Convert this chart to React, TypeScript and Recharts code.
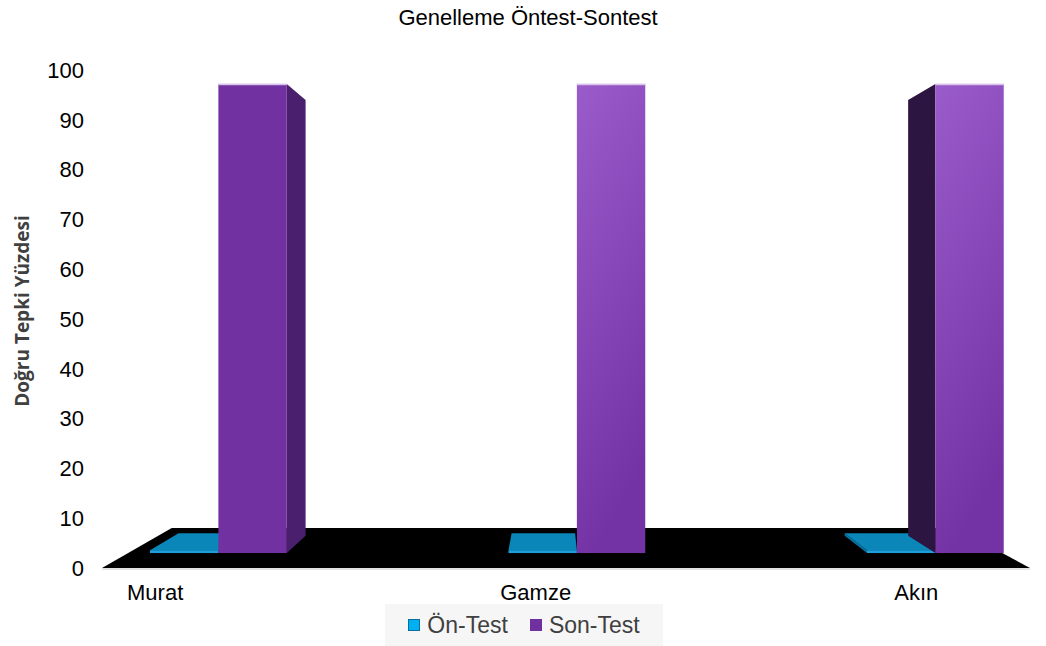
import React from 'react';
import { BarChart, Bar, XAxis, YAxis, ReferenceArea } from 'recharts';

const students = ['Murat', 'Gamze', 'Akın'];
const onTest = [0, 0, 0];
const sonTest = [100, 100, 100];
const yTicks = [0, 10, 20, 30, 40, 50, 60, 70, 80, 90, 100];

const data = students.map((name, i) => ({ name, onTest: onTest[i], sonTest: sonTest[i] }));

// fake 3D: a vanishing point, the bar plane sits a bit behind the front edge of the floor
const VX = 552;
const VY = 310;
const BAR_PLANE = 0.942;
const X_SCALE = 1.1589;
const X_SHIFT = -79.45;
const DEPTH = 0.929;
const FLOOR_DEPTH = 0.845;
const BAR_SIZE = 59;

const projX = (x: number) => X_SHIFT + X_SCALE * x;
const projY = (y: number) => VY + (y - VY) * BAR_PLANE;
const toBack = (x: number, y: number, k: number) => [VX + (x - VX) * k, VY + (y - VY) * k];

const sonFront = ['#7131a0', 'url(#sonLit)', 'url(#sonLit)'];
const sonSide = ['#4a206e', '#3b1a5a', '#2d1542'];

function makeBox(front: (i: number) => string, side: (i: number) => string, top: string, edge?: string) {
  return (props: any) => {
    const { x, y, width, height, index } = props;
    const L = projX(x);
    const R = projX(x + width);
    const T = projY(y);
    const B = projY(y + height);
    const [L2, T2] = toBack(L, T, DEPTH);
    const [R2, B2] = toBack(R, B, DEPTH);
    const pts = (a: number[][]) => a.map((p) => p.join(',')).join(' ');
    return (
      <g>
        {L2 < L - 2 && (
          <polygon points={pts([[L, T], [L2, T2], [L2, B2], [L, B]])} fill={side(index)} />
        )}
        {R2 > R + 2 && (
          <polygon points={pts([[R, T], [R2, T2], [R2, B2], [R, B]])} fill={side(index)} />
        )}
        {T2 < T && (
          <polygon points={pts([[L, T], [R, T], [R2, T2], [L2, T2]])} fill={top} />
        )}
        <rect x={L} y={T} width={R - L} height={Math.max(B - T, 0)} fill={front(index)} />
        {edge && <line x1={L} y1={T + 0.5} x2={R} y2={T + 0.5} stroke={edge} strokeWidth={1.5} />}
      </g>
    );
  };
}

const OnBox = makeBox(() => '#1c9fdc', () => '#08709e', '#0a86b8');
const SonBox = makeBox((i) => sonFront[i], (i) => sonSide[i], '#8a4cc0', '#d9c3ea');

const Floor = (props: any) => {
  const { x, y, width, height } = props;
  const yb = y + height;
  const [L2, T2] = toBack(x, yb, FLOOR_DEPTH);
  const [R2] = toBack(x + width, yb, FLOOR_DEPTH);
  return (
    <g>
      <polygon points={`${x},${yb} ${x + width},${yb} ${R2},${T2} ${L2},${T2}`} fill="#000" />
      <line x1={x} y1={yb + 1} x2={x + width} y2={yb + 1} stroke="#d9d9d9" strokeWidth={1.5} />
    </g>
  );
};

const XTick = (props: any) => {
  const { x, y, payload } = props;
  const cx = VX + (projX(x - BAR_SIZE / 2) - VX) / BAR_PLANE - 6;
  return (
    <text x={cx} y={y + 32} textAnchor="middle" fontSize={22} fill="#000" fontFamily="'Liberation Sans', Arial, sans-serif">
      {payload.value}
    </text>
  );
};

const YLabel = () => (
  <text
    x={29}
    y={311}
    transform="rotate(-90, 29, 311)"
    textAnchor="middle"
    fontSize={19}
    fontWeight={700}
    fill="#404040"
    fontFamily="'Open Sans', sans-serif"
  >
    Doğru Tepki Yüzdesi
  </text>
);

export default function App() {
  return (
    <div
      style={{
        position: 'absolute',
        left: 0,
        top: 0,
        width: 1046,
        height: 646,
        background: '#fff',
        fontFamily: "'Liberation Sans', Arial, sans-serif",
      }}
    >
      <div style={{ position: 'absolute', top: 5, left: 0, width: 1056, textAlign: 'center', fontSize: 22, color: '#000' }}>
        Genelleme Öntest-Sontest
      </div>
      <BarChart width={1046} height={646} data={data} margin={{ top: 70, right: 16, bottom: 0, left: 0 }} barGap={0}>
        <defs>
          <linearGradient id="sonLit" x1="0" y1="0" x2="0.25" y2="1">
            <stop offset="0%" stopColor="#9a5bcb" />
            <stop offset="100%" stopColor="#7433a4" />
          </linearGradient>
        </defs>
        <ReferenceArea y1={0} y2={1} shape={Floor} zIndex={-1} />
        <XAxis dataKey="name" height={78} axisLine={false} tickLine={false} tickSize={0} tickMargin={0} tick={<XTick />} />
        <YAxis
          width={102}
          domain={[0, 100]}
          ticks={yTicks}
          axisLine={false}
          tickLine={false}
          tickSize={0}
          tickMargin={18}
          tick={{ fontSize: 22, fill: '#000', fontFamily: "'Liberation Sans', Arial, sans-serif" }}
          label={<YLabel />}
        />
        <Bar dataKey="onTest" name="Ön-Test" barSize={BAR_SIZE} minPointSize={3} shape={OnBox} isAnimationActive={false} />
        <Bar dataKey="sonTest" name="Son-Test" barSize={BAR_SIZE} shape={SonBox} isAnimationActive={false} />
      </BarChart>
      <div
        style={{
          position: 'absolute',
          left: 385,
          top: 604,
          width: 278,
          height: 42,
          background: '#f6f6f6',
          display: 'flex',
          alignItems: 'center',
          justifyContent: 'center',
          gap: 22,
          fontSize: 23,
          color: '#404040',
        }}
      >
        <span style={{ display: 'flex', alignItems: 'center', gap: 7 }}>
          <span style={{ width: 10, height: 10, background: '#00b0f0', border: '1px solid #0a6fa0' }} />
          Ön-Test
        </span>
        <span style={{ display: 'flex', alignItems: 'center', gap: 7 }}>
          <span style={{ width: 12, height: 12, background: '#7030a0' }} />
          Son-Test
        </span>
      </div>
    </div>
  );
}
